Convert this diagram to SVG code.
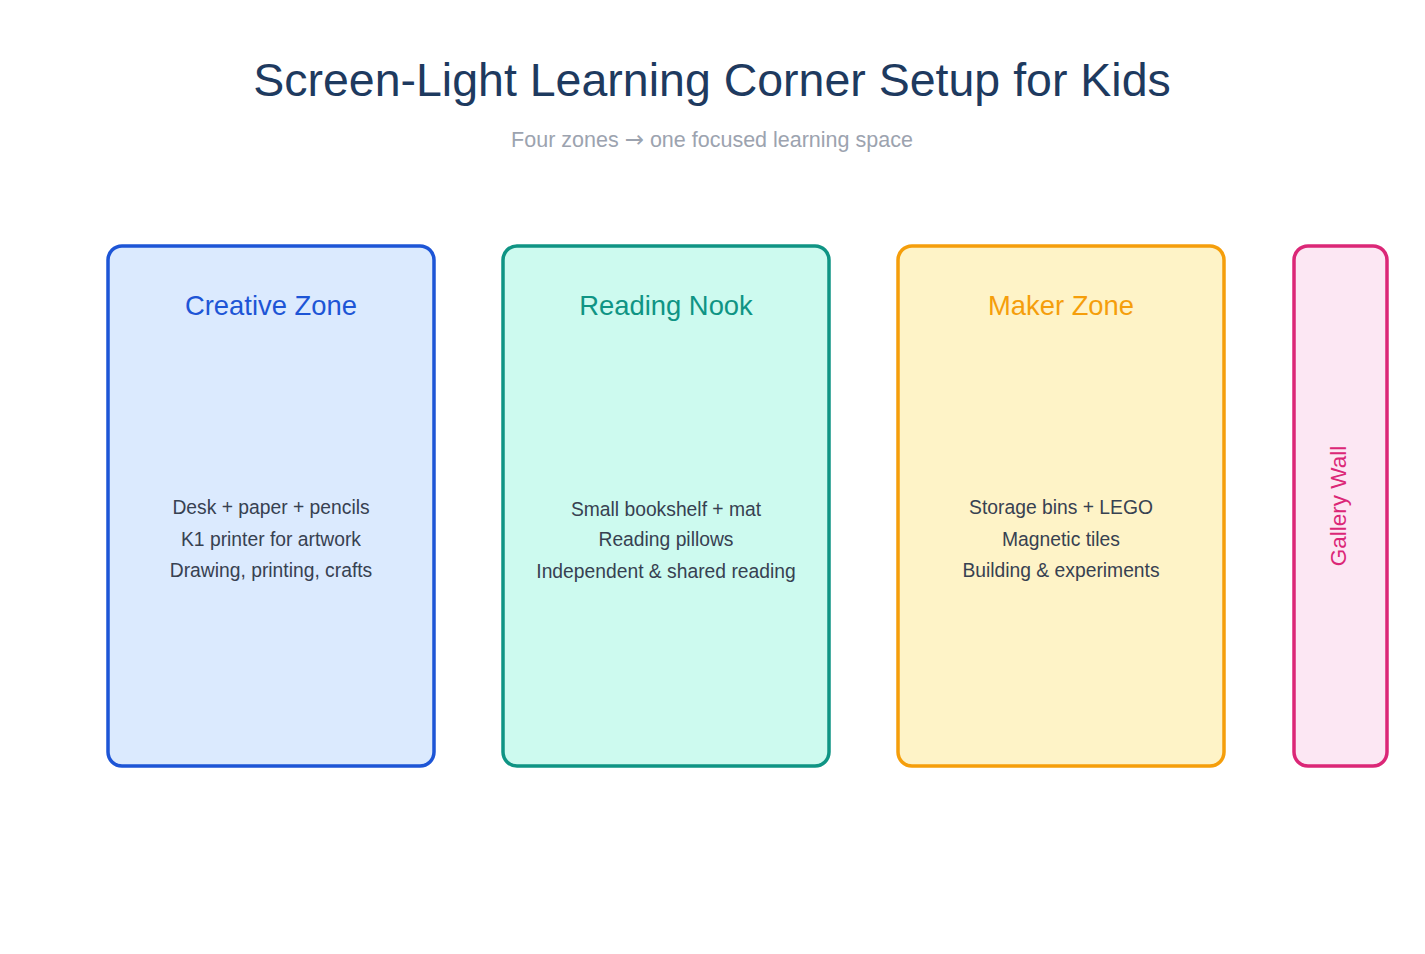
<svg xmlns="http://www.w3.org/2000/svg" width="1425" height="954" viewBox="0 0 1425 954">
<style>
.t{font-family:"Liberation Sans",Arial,sans-serif;text-anchor:middle}
.box{stroke-width:3.5}
.zt{font-size:27.4px}
.body{font-size:19.3px;fill:#374151}
</style>
<rect width="1425" height="954" fill="#ffffff"/>
<text class="t" x="712" y="96" font-size="46.5" fill="#1e3a5f">Screen-Light Learning Corner Setup for Kids</text>
<text class="t" x="712" y="147" font-size="21.5" fill="#9ca3af">Four zones <tspan font-family="'DejaVu Sans',sans-serif" font-size="23">→</tspan> one focused learning space</text>
<g id="connectors"/>
<g id="creative">
<rect class="box" x="108" y="246" width="326" height="520" rx="14" fill="#dbeafe" stroke="#1d55d6"/>
<text class="t zt" x="271" y="315" fill="#1d55d6">Creative Zone</text>
<text class="t body" x="271" y="514">Desk + paper + pencils</text>
<text class="t body" x="271" y="546">K1 printer for artwork</text>
<text class="t body" x="271" y="577">Drawing, printing, crafts</text>
</g>
<g id="reading">
<rect class="box" x="503" y="246" width="326" height="520" rx="14" fill="#cdfaef" stroke="#0f9484"/>
<text class="t zt" x="666" y="315" fill="#0f9484">Reading Nook</text>
<text class="t body" x="666" y="516">Small bookshelf + mat</text>
<text class="t body" x="666" y="546">Reading pillows</text>
<text class="t body" x="666" y="578">Independent &amp; shared reading</text>
</g>
<g id="maker">
<rect class="box" x="898" y="246" width="326" height="520" rx="14" fill="#fef3c7" stroke="#f59e0b"/>
<text class="t zt" x="1061" y="315" fill="#f59e0b">Maker Zone</text>
<text class="t body" x="1061" y="514">Storage bins + LEGO</text>
<text class="t body" x="1061" y="546">Magnetic tiles</text>
<text class="t body" x="1061" y="577">Building &amp; experiments</text>
</g>
<g id="gallery">
<rect class="box" x="1294" y="246" width="93" height="520" rx="14" fill="#fce7f3" stroke="#db2777"/>
<text class="t" x="0" y="0" font-size="22.5" fill="#db2777" transform="translate(1346 506) rotate(-90)">Gallery Wall</text>
</g>
</svg>
